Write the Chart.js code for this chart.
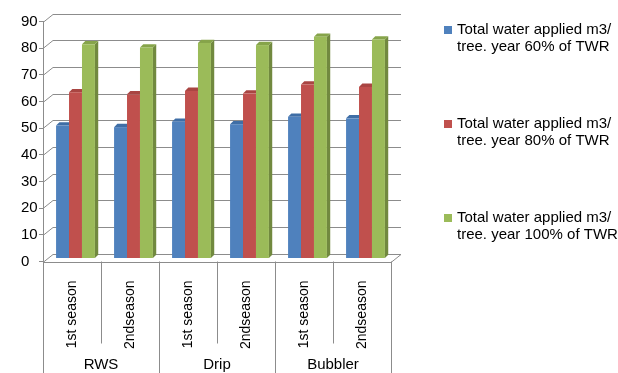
<!DOCTYPE html>
<html>
<head>
<meta charset="utf-8">
<script src="https://cdn.jsdelivr.net/npm/chart.js@4.4.0/dist/chart.umd.min.js"></script>
<style>
  html, body { margin: 0; padding: 0; background: #fff; }
  #wrap { width: 618px; height: 373px; }
</style>
</head>
<body>
<div id="wrap"><canvas id="chart" width="618" height="373"></canvas></div>
<script>
// data
const systems = ['RWS', 'Drip', 'Bubbler'];
const seasons = ['1st season', '2ndseason', '1st season', '2ndseason', '1st season', '2ndseason'];
const water60 = [49.9, 49.3, 51.3, 50.4, 53.2, 52.6];
const water80 = [62.4, 61.6, 62.9, 61.9, 65.3, 64.4];
const water100 = [80.4, 79.2, 80.9, 80.1, 83.2, 82.2];
const seriesNames = [
  ['Total water applied m3/', 'tree. year 60% of TWR'],
  ['Total water applied m3/', 'tree. year 80% of TWR'],
  ['Total water applied m3/', 'tree. year 100% of TWR']
];
const yMax = 90;
const yStep = 10;

const fronts = ['#4f81bd', '#c0504d', '#9bbb59'];
const sides = ['#385d8a', '#8c3a38', '#71893f'];
const tops = ['#3f6ea6', '#a94542', '#86a44a'];
const gridColor = '#8c8c8c';
const FONT = '"Liberation Sans", Arial, sans-serif';

// 3d offsets
const WALL_DX = 10, WALL_DY = 8;   // back wall vs front axis
const BAR_OX = 3.5, BAR_OY = 3;    // bars sit a bit into the depth
const BAR_DX = 3.3, BAR_DY = 3.3;  // depth of each bar

const excel3d = {
  id: 'excel3d',
  beforeDatasetsDraw(chart) {
    const ctx = chart.ctx;
    const ca = chart.chartArea;
    const y = chart.scales.y;
    ctx.save();
    ctx.strokeStyle = gridColor;
    ctx.lineWidth = 1;
    // back wall gridlines + left wall diagonals
    for (let v = 0; v <= yMax; v += yStep) {
      const py = Math.round(y.getPixelForValue(v)) + 0.5;
      ctx.beginPath();
      ctx.moveTo(ca.left, py);
      ctx.lineTo(ca.left + WALL_DX, py - WALL_DY);
      ctx.lineTo(ca.right + WALL_DX, py - WALL_DY);
      ctx.stroke();
    }
    // floor front edge
    const by = Math.round(y.getPixelForValue(0)) + 0.5;
    ctx.beginPath();
    ctx.moveTo(ca.left, by);
    ctx.lineTo(ca.right, by);
    ctx.lineTo(ca.right + WALL_DX, by - WALL_DY);
    ctx.stroke();

    // bars with side and top faces
    const metas = [0, 1, 2].map(i => chart.getDatasetMeta(i));
    const n = metas[0].data.length;
    for (let c = 0; c < n; c++) {
      metas.forEach((meta, d) => {
        const el = meta.data[c];
        const w = el.width;
        const l = el.x - w / 2 + BAR_OX;
        const r = el.x + w / 2 + BAR_OX;
        const t = el.y - BAR_OY;
        const b = el.base - BAR_OY;
        ctx.fillStyle = sides[d];
        ctx.beginPath();
        ctx.moveTo(r, t);
        ctx.lineTo(r + BAR_DX, t - BAR_DY);
        ctx.lineTo(r + BAR_DX, b - BAR_DY);
        ctx.lineTo(r, b);
        ctx.closePath();
        ctx.fill();
        ctx.fillStyle = tops[d];
        ctx.beginPath();
        ctx.moveTo(l, t);
        ctx.lineTo(l + BAR_DX, t - BAR_DY);
        ctx.lineTo(r + BAR_DX, t - BAR_DY);
        ctx.lineTo(r, t);
        ctx.closePath();
        ctx.fill();
        ctx.fillStyle = fronts[d];
        ctx.fillRect(l, t, w, b - t);
      });
    }
    ctx.restore();
    return false;
  },
  afterDraw(chart) {
    const ctx = chart.ctx;
    const ca = chart.chartArea;
    const x = chart.scales.x;
    const H = chart.height;
    ctx.save();
    // category separators
    ctx.strokeStyle = gridColor;
    ctx.lineWidth = 1;
    const n = seasons.length;
    const step = (ca.right - ca.left) / n;
    for (let i = 0; i <= n; i++) {
      const px = Math.round(ca.left + i * step) + 0.5;
      ctx.beginPath();
      ctx.moveTo(px, ca.bottom);
      ctx.lineTo(px, i % 2 === 0 ? H : ca.bottom + 82);
      ctx.stroke();
    }
    // group labels
    ctx.fillStyle = '#000';
    ctx.font = '15px ' + FONT;
    ctx.textAlign = 'center';
    ctx.textBaseline = 'middle';
    systems.forEach((s, i) => {
      const cx = (x.getPixelForValue(i * 2) + x.getPixelForValue(i * 2 + 1)) / 2;
      ctx.fillText(s, cx, 365);
    });
    // legend
    ctx.textAlign = 'left';
    const ly = [30, 124, 218];
    seriesNames.forEach((lines, i) => {
      ctx.fillStyle = fronts[i];
      ctx.fillRect(444, ly[i] - 4, 8, 8);
      ctx.fillStyle = '#000';
      ctx.fillText(lines[0], 457, ly[i]);
      ctx.fillText(lines[1], 457, ly[i] + 17);
    });
    ctx.restore();
  }
};

new Chart(document.getElementById('chart'), {
  type: 'bar',
  data: {
    labels: seasons,
    datasets: [
      { label: seriesNames[0].join(' '), data: water60, backgroundColor: fronts[0] },
      { label: seriesNames[1].join(' '), data: water80, backgroundColor: fronts[1] },
      { label: seriesNames[2].join(' '), data: water100, backgroundColor: fronts[2] }
    ]
  },
  options: {
    responsive: false,
    animation: false,
    devicePixelRatio: 1,
    layout: { padding: { left: 21, top: 21.7, right: 227, bottom: 0 } },
    datasets: { bar: { categoryPercentage: 0.67, barPercentage: 1.0 } },
    plugins: { legend: { display: false }, tooltip: { enabled: false } },
    scales: {
      x: {
        grid: { display: false },
        border: { display: false },
        ticks: {
          autoSkip: false, minRotation: 90, maxRotation: 90, padding: 11,
          color: '#000', font: { family: FONT, size: 14 }
        },
        afterFit(scale) { scale.height = 111.5; }
      },
      y: {
        min: 0, max: yMax,
        grid: { drawOnChartArea: false, tickLength: 4, color: gridColor },
        border: { color: gridColor },
        ticks: {
          stepSize: yStep, crossAlign: 'far', padding: 0,
          color: '#000', font: { family: FONT, size: 15 }
        },
        afterFit(scale) { scale.width = 22; }
      }
    }
  },
  plugins: [excel3d]
});
</script>
</body>
</html>
